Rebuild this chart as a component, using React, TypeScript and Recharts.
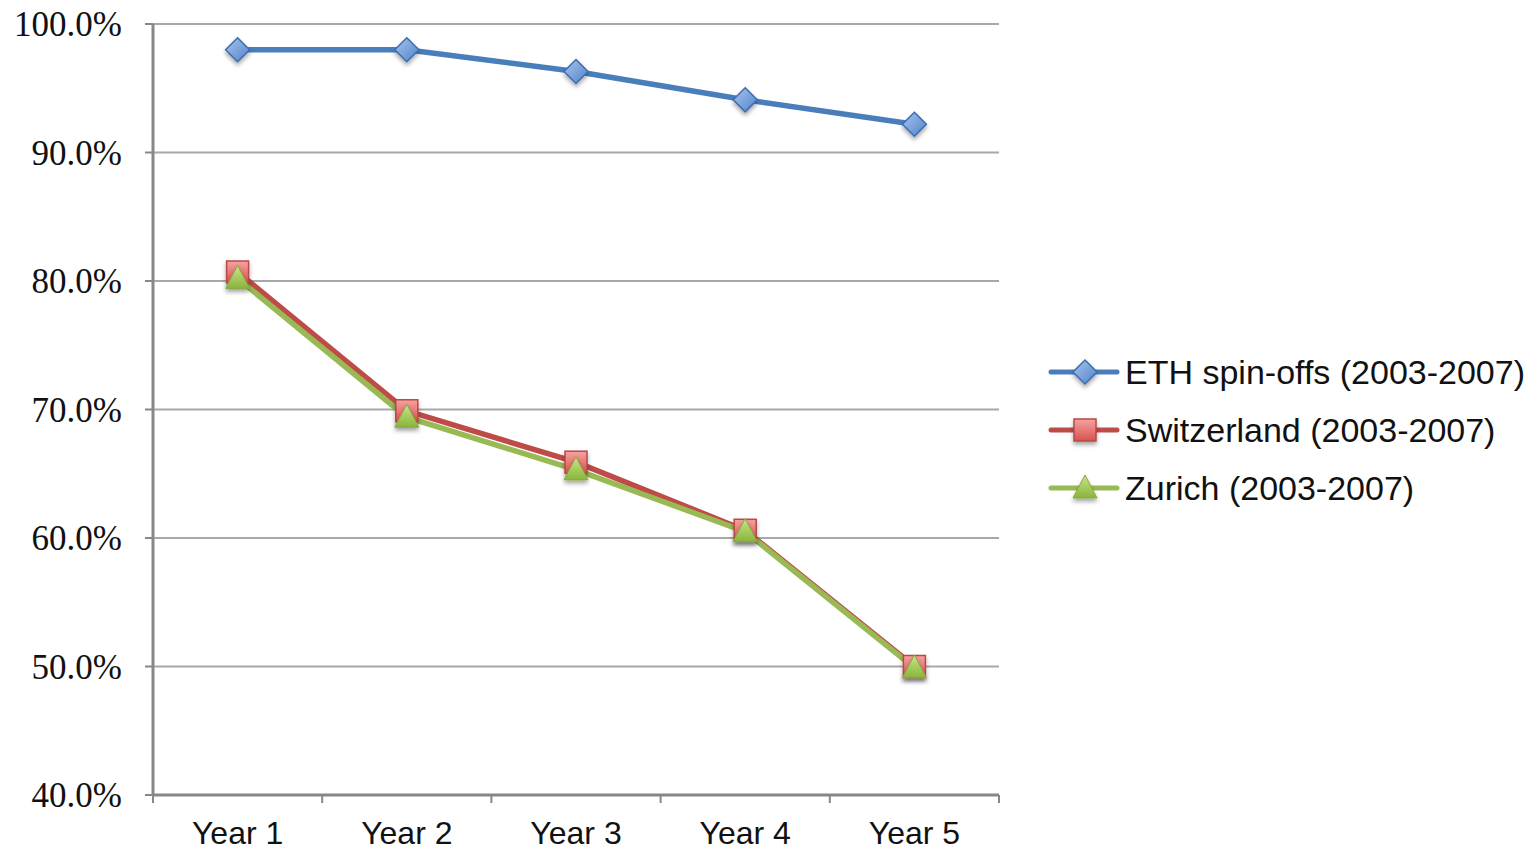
import React from "react";
import {
  LineChart,
  Line,
  XAxis,
  YAxis,
  CartesianGrid,
  Legend,
} from "recharts";

const categories = ["Year 1", "Year 2", "Year 3", "Year 4", "Year 5"];
const ethSpinoffs = [98.0, 98.0, 96.3, 94.1, 92.2];
const switzerland = [80.7, 69.9, 65.9, 60.6, 50.0];
const zurich = [80.2, 69.4, 65.3, 60.5, 49.9];
const yTicks = [40, 50, 60, 70, 80, 90, 100];
const seriesNames = [
  "ETH spin-offs (2003-2007)",
  "Switzerland (2003-2007)",
  "Zurich (2003-2007)",
];

const data = categories.map((year, i) => ({
  year,
  eth: ethSpinoffs[i],
  ch: switzerland[i],
  zh: zurich[i],
}));

// layout (svg sits at the page's top-left corner)
const CHART_W = 1537;
const CHART_H = 851;
const Y_AXIS_W = 153;
const LEGEND_W = 538;
const X_AXIS_H = 56;
const PLOT_W = CHART_W - Y_AXIS_W - LEGEND_W;
const HALF_BAND = PLOT_W / categories.length / 2;

const AXIS_GREY = "#878787";
const GRID_GREY = "#a8a8a8";

const Diamond = ({ cx, cy }: { cx: number; cy: number }) => (
  <path
    d={`M${cx},${cy - 12}L${cx + 12},${cy}L${cx},${cy + 12}L${cx - 12},${cy}Z`}
    fill="url(#gBlue)"
    stroke="#3c6db0"
    strokeWidth={1.5}
    filter="url(#shadow)"
  />
);

const Square = ({ cx, cy }: { cx: number; cy: number }) => (
  <rect
    x={cx - 11}
    y={cy - 11}
    width={22}
    height={22}
    fill="url(#gRed)"
    stroke="#b94845"
    strokeWidth={1.5}
    filter="url(#shadow)"
  />
);

const Triangle = ({ cx, cy }: { cx: number; cy: number }) => (
  <path
    d={`M${cx},${cy - 13}L${cx + 12},${cy + 10}L${cx - 12},${cy + 10}Z`}
    fill="url(#gGreen)"
    stroke="#86aa44"
    strokeWidth={1}
    filter="url(#shadow)"
  />
);

const markers = [Diamond, Square, Triangle];
const lineColors = ["#4a7ebb", "#be4b48", "#98b954"];

const XTick = (props: any) => {
  const { x, y, payload, index } = props;
  const last = index === categories.length - 1;
  return (
    <g>
      <line x1={x - HALF_BAND} x2={x - HALF_BAND} y1={y} y2={y + 8} stroke={AXIS_GREY} strokeWidth={2} />
      {last && (
        <line x1={x + HALF_BAND} x2={x + HALF_BAND} y1={y} y2={y + 8} stroke={AXIS_GREY} strokeWidth={2} />
      )}
      <text
        x={x}
        y={y + 49}
        textAnchor="middle"
        fontFamily="'Liberation Sans', Arial, sans-serif"
        fontSize={32}
        fill="#111"
      >
        {payload.value}
      </text>
    </g>
  );
};

const LegendBox = () => (
  <div style={{ paddingLeft: 51 }}>
    {seriesNames.map((name, i) => {
      const M = markers[i];
      return (
        <div key={name} style={{ height: 58, display: "flex", alignItems: "center" }}>
          <svg width={75} height={30} style={{ overflow: "visible" }}>
            <line x1={1} x2={67} y1={15} y2={15} stroke={lineColors[i]} strokeWidth={5} strokeLinecap="round" />
            <M cx={35} cy={15} />
          </svg>
          <span
            style={{
              fontFamily: "'Liberation Sans', Arial, sans-serif",
              fontSize: 34,
              color: "#111",
              whiteSpace: "nowrap",
            }}
          >
            {name}
          </span>
        </div>
      );
    })}
  </div>
);

export default function App() {
  return (
    <div style={{ position: "absolute", left: 0, top: 0, width: CHART_W, height: CHART_H }}>
      <LineChart
        width={CHART_W}
        height={CHART_H}
        data={data}
        margin={{ top: 24, right: 0, left: 0, bottom: 0 }}
      >
        <defs>
          <linearGradient id="gBlue" x1="0" y1="0" x2="1" y2="1">
            <stop offset="0%" stopColor="#a9c6f0" />
            <stop offset="100%" stopColor="#4f82c8" />
          </linearGradient>
          <linearGradient id="gRed" x1="0" y1="0" x2="0" y2="1">
            <stop offset="0%" stopColor="#f5a3a1" />
            <stop offset="100%" stopColor="#d9514d" />
          </linearGradient>
          <linearGradient id="gGreen" x1="0" y1="0" x2="0" y2="1">
            <stop offset="0%" stopColor="#c8e58a" />
            <stop offset="100%" stopColor="#8ab43c" />
          </linearGradient>
          <filter id="shadow" x="-50%" y="-50%" width="200%" height="200%">
            <feDropShadow dx="0" dy="3" stdDeviation="2" floodColor="#000" floodOpacity="0.35" />
          </filter>
        </defs>
        <CartesianGrid vertical={false} stroke={GRID_GREY} strokeWidth={2} />
        <XAxis
          dataKey="year"
          scale="band"
          height={X_AXIS_H}
          axisLine={{ stroke: AXIS_GREY, strokeWidth: 3 }}
          tickLine={false}
          tickSize={0}
          tickMargin={0}
          tick={<XTick />}
          interval={0}
        />
        <YAxis
          width={Y_AXIS_W}
          domain={[40, 100]}
          ticks={yTicks}
          interval={0}
          tickFormatter={(v: number) => `${v.toFixed(1)}%`}
          axisLine={{ stroke: AXIS_GREY, strokeWidth: 3 }}
          tickLine={{ stroke: AXIS_GREY, strokeWidth: 2 }}
          tickSize={8}
          tickMargin={23}
          tick={{ fontFamily: "'Liberation Serif', 'Times New Roman', serif", fontSize: 35, fill: "#111" }}
        />
        <Legend
          layout="vertical"
          align="right"
          verticalAlign="middle"
          content={() => <LegendBox />}
          wrapperStyle={{ width: LEGEND_W, height: 174, top: 343 }}
        />
        <Line
          dataKey="eth"
          name={seriesNames[0]}
          stroke={lineColors[0]}
          strokeWidth={5.5}
          isAnimationActive={false}
          dot={(p: any) => <Diamond key={`eth-${p.index}`} cx={p.cx} cy={p.cy} />}
          activeDot={false}
        />
        <Line
          dataKey="ch"
          name={seriesNames[1]}
          stroke={lineColors[1]}
          strokeWidth={5.5}
          isAnimationActive={false}
          dot={(p: any) => <Square key={`ch-${p.index}`} cx={p.cx} cy={p.cy} />}
          activeDot={false}
        />
        <Line
          dataKey="zh"
          name={seriesNames[2]}
          stroke={lineColors[2]}
          strokeWidth={5.5}
          isAnimationActive={false}
          dot={(p: any) => <Triangle key={`zh-${p.index}`} cx={p.cx} cy={p.cy} />}
          activeDot={false}
        />
      </LineChart>
    </div>
  );
}
